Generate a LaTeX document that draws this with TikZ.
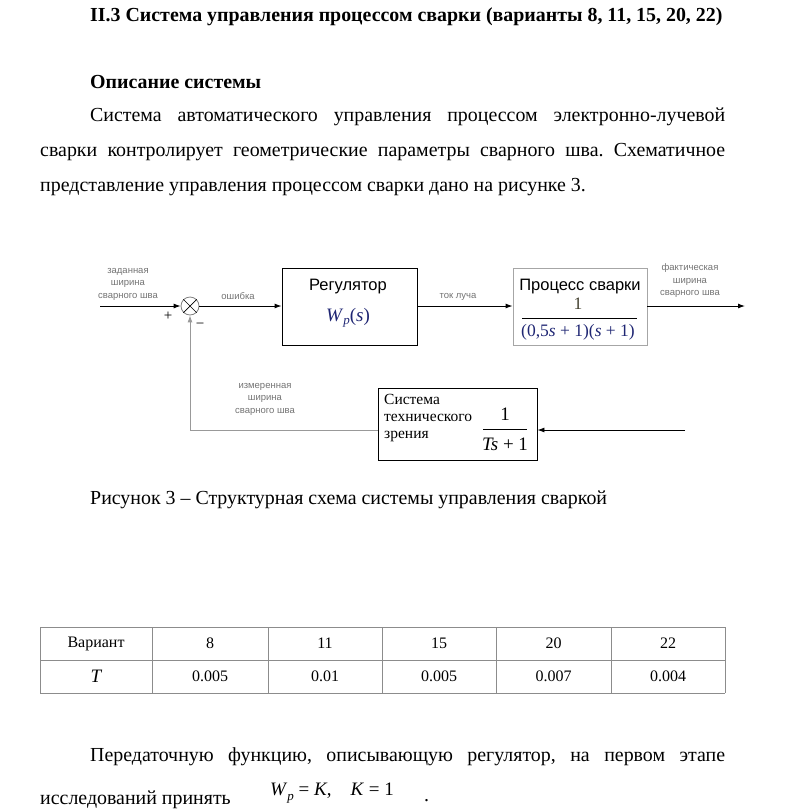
\documentclass[tikz,border=0pt]{standalone}
\usepackage{fontspec}
\setmainfont{Liberation Serif}
\newfontfamily\arialf{Liberation Sans}
\usetikzlibrary{arrows.meta,calc}
\definecolor{lblgray}{gray}{0.45}
\definecolor{mathblue}{rgb}{0.12,0.15,0.45}
\definecolor{tblgray}{gray}{0.55}
\frenchspacing
\begin{document}
\begin{tikzpicture}[x=1pt,y=-1pt,
  body/.style={font=\fontsize{19.9}{23}\selectfont, inner sep=0pt},
  bodyb/.style={font=\bfseries\fontsize{19.9}{23}\selectfont, inner sep=0pt},
  lbl/.style={font=\arialf\fontsize{9.5}{12.5}\selectfont, text=lblgray, align=center, inner sep=0pt},
  blk/.style={draw, line width=0.9pt, inner sep=0pt},
  arr/.style={-{Latex[length=7pt,width=5pt]}, line width=0.9pt},
  tbl/.style={font=\fontsize{16}{18}\selectfont, inner sep=0pt},
  tline/.style={draw=tblgray, line width=0.8pt},
  sumsty/.style={circle, draw=gray, line width=0.8pt, minimum size=18pt, inner sep=0pt},
  mth/.style={font=\fontsize{19}{21}\selectfont, inner sep=0pt}
]
\useasboundingbox (0,0) rectangle (788,812);

% ---------- header text ----------
\node[bodyb, anchor=west] (title) at (90,17) {II.3 Система управления процессом сварки (варианты 8, 11, 15, 20, 22)};
\node[bodyb, anchor=west] (subt) at (90,82) {Описание системы};
\node[body, anchor=west] (p1) at (90,117) {\makebox[635pt][s]{Система автоматического управления процессом электронно-лучевой}};
\node[body, anchor=west] (p2) at (40,152) {\makebox[685pt][s]{сварки контролирует геометрические параметры сварного шва. Схематичное}};
\node[body, anchor=west] (p3) at (40,187) {представление управления процессом сварки дано на рисунке 3.};

% ---------- block diagram ----------
\coordinate (in) at (100,306);
\node[sumsty] (sum) at (190,306) {};
\draw[line width=0.7pt] (sum.north west) -- (sum.south east) (sum.north east) -- (sum.south west);

\node[blk, minimum width=135pt, minimum height=77pt] (reg) at (349.5,306.5) {};
\node[blk, draw=gray!70, minimum width=134pt, minimum height=77pt] (proc) at (580,306.5) {};
\node[blk, minimum width=159pt, minimum height=72pt] (sens) at (457.5,424) {};

\coordinate (out) at (745,306);
\coordinate (fbr) at (685,430);
\coordinate (fbl) at (190,430);

\draw[arr] (in) -- (sum.west);
\draw[arr] (sum.east) -- (reg.west |- sum.east);
\draw[arr] (reg.east |- sum.east) -- (proc.west |- sum.east);
\draw[arr] (proc.east |- sum.east) -- (out);
\draw[arr] (fbr) -- (fbr -| sens.east);
\draw[arr, draw=gray!80] (fbr -| sens.west) -- (fbl) -- (sum.south);

% labels on connectors
\node[lbl] (lin) at (128,284) {заданная\\ширина\\сварного шва};
\node[lbl] (lerr) at (238,296) {ошибка};
\node[lbl] (lcur) at (458,297) {ток луча};
\node[lbl] (lout) at (690,281) {фактическая\\ширина\\сварного шва};
\node[lbl] (lmeas) at (265,399) {измеренная\\ширина\\сварного шва};
\node[font=\fontsize{15}{15}\selectfont, inner sep=0pt] (plus) at (168,316) {+};
\node[font=\fontsize{15}{15}\selectfont, inner sep=0pt] (minus) at (200,326) {−};

% regulator contents
\node[font=\arialf\fontsize{16.5}{18}\selectfont, inner sep=0pt] (regt) at (348,287) {Регулятор};
\node[mth, text=mathblue] (regw) at (348,318) {\textit{W}\raisebox{-0.35ex}{\fontsize{13}{13}\selectfont\textit{p}}(\textit{s})};

% process contents
\node[font=\arialf\fontsize{16.5}{18}\selectfont, inner sep=0pt] (proct) at (580,287) {Процесс сварки};
\node[mth, font=\fontsize{17.5}{19}\selectfont, text=black!70!olive] (procn) at (578,304) {1};
\node[mth, font=\fontsize{17.5}{19}\selectfont, text=mathblue] (procd) at (578,332) {(0,5\textit{s} + 1)(\textit{s} + 1)};
\draw[line width=0.8pt] (522,318) -- (637,318);

% sensor contents
\node[font=\fontsize{15.5}{17}\selectfont, align=left, anchor=west, inner sep=0pt] (senst) at (384,418) {Система\\технического\\зрения};
\node[mth] (sensn) at (505,414) {1};
\node[mth] (sensd) at (505,444) {\textit{Ts} + 1};
\draw[line width=0.8pt] (483,429) -- (527,429);

% caption
\node[body, anchor=west] (cap) at (90,500) {Рисунок 3 – Структурная схема системы управления сваркой};

% ---------- table ----------
\foreach \yy in {627,660,693} \draw[tline] (40,\yy) -- (725,\yy);
\foreach \xx in {40,152,268,382,496,611,725} \draw[tline] (\xx,627) -- (\xx,693);
\node[tbl] (h0) at (96,643.5) {Вариант};
\node[tbl] (h1) at (210,643.5) {8};
\node[tbl] (h2) at (325,643.5) {11};
\node[tbl] (h3) at (439,643.5) {15};
\node[tbl] (h4) at (553.5,643.5) {20};
\node[tbl] (h5) at (668,643.5) {22};
\node[tbl, font=\itshape\fontsize{19}{19}\selectfont] (r0) at (96,676.5) {T};
\node[tbl] (r1) at (210,676.5) {0.005};
\node[tbl] (r2) at (325,676.5) {0.01};
\node[tbl] (r3) at (439,676.5) {0.005};
\node[tbl] (r4) at (553.5,676.5) {0.007};
\node[tbl] (r5) at (668,676.5) {0.004};

% ---------- bottom text ----------
\node[body, anchor=west] (q1) at (90,757) {\makebox[635pt][s]{Передаточную функцию, описывающую регулятор, на первом этапе}};
\node[body, anchor=west] (q2) at (40,800) {исследований принять};
\node[mth, anchor=west] (q3) at (270,793) {\textit{W}\raisebox{-0.5ex}{\fontsize{13}{13}\selectfont\textit{p}} = \textit{K},\quad \textit{K} = 1};
\node[body, anchor=west] (q4) at (424,801) {.};
\end{tikzpicture}
\end{document}
